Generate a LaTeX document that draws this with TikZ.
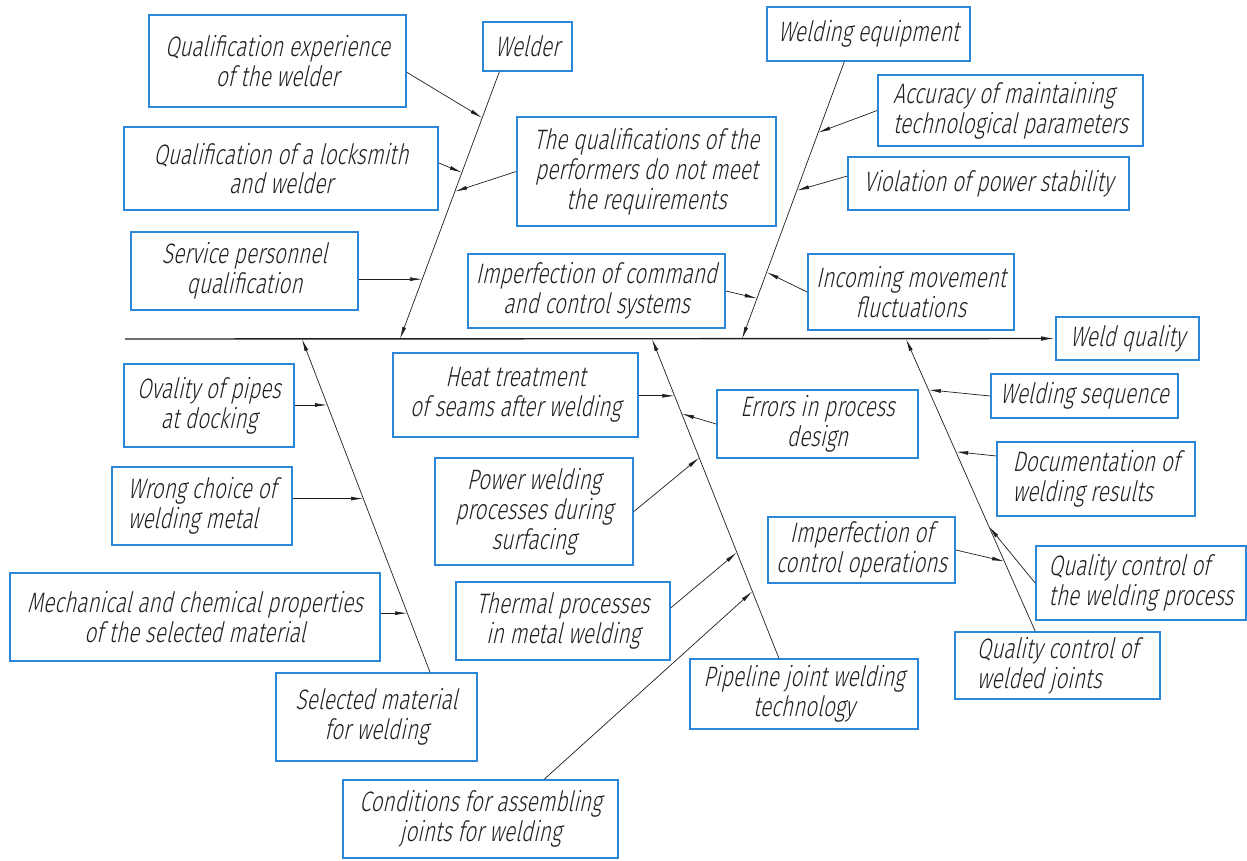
\documentclass[tikz,border=0pt]{standalone}
\usepackage{fontspec}
\setmainfont{Fira Sans}[UprightFont=* Light, FakeStretch=0.74, FakeSlant=0.22]
\usetikzlibrary{arrows.meta}
\usetikzlibrary{calc}
\definecolor{boxblue}{HTML}{2B87D8}
\definecolor{ink}{HTML}{1E1E1E}
\tikzset{cause/.style = {draw=boxblue, line width=1pt, inner sep=0pt, text=ink,
                         align=center, font=\fontsize{16}{17}\selectfont},
         sz/.style 2 args = {minimum width=#1*0.02cm, minimum height=#2*0.02cm},
         bone/.style = {draw=ink, line width=0.4pt, -{Latex[length=7pt, width=2.2pt]}},
         spine/.style = {draw=ink, line width=0.8pt, -{Latex[length=8pt, width=2.6pt]}}}

\begin{document}
\begin{tikzpicture}[x=0.02cm, y=-0.02cm]
    \useasboundingbox (0,0) rectangle (1247,860);

    % causes above the spine
    \node[cause, sz={257}{92}] (qexp) at (277.5,61) {Qualification experience\\of the welder};
    \node[cause, sz={89}{49}] (welder) at (527.5,46.5) {Welder};
    \node[cause, sz={314}{83}] (qlock) at (281,168.5) {Qualification of a locksmith\\and welder};
    \node[cause, sz={259}{109}] (qperf) at (646.5,171.5) {The qualifications of the\\performers do not meet\\the requirements};
    \node[cause, sz={227}{78}] (serv) at (244.5,271) {Service personnel\\qualification};
    \node[cause, sz={257}{74}] (cmdsys) at (596.5,291) {Imperfection of command\\and control systems};
    \node[cause, sz={203}{54}] (equip) at (868.5,34) {Welding equipment};
    \node[cause, sz={265}{71}, align=left] (accur) at (1010.5,110.5) {Accuracy of maintaining\\technological parameters};
    \node[cause, sz={281}{53}] (viol) at (988.5,183.5) {Violation of power stability};
    \node[cause, sz={206}{76}] (incom) at (911,292) {Incoming movement\\fluctuations};

    % effect
    \node[cause, sz={143}{43}] (quality) at (1127.5,338.5) {Weld quality};

    % causes below the spine
    \node[cause, sz={187}{44}] (seq) at (1084.5,396) {Welding sequence};
    \node[cause, sz={198}{74}, align=left] (docum) at (1096,479) {Documentation of\\welding results};
    \node[cause, sz={210}{74}, align=left] (qcproc) at (1141,583) {Quality control of\\the welding process};
    \node[cause, sz={205}{67}, align=left] (qcjoint) at (1057.5,665.5) {Quality control of\\welded joints};
    \node[cause, sz={187}{66}] (ctrlops) at (861.5,550) {Imperfection of\\control operations};
    \node[cause, sz={201}{68}] (errors) at (817.5,424) {Errors in process\\design};
    \node[cause, sz={245}{84}] (heat) at (515.5,395) {Heat treatment\\of seams after welding};
    \node[cause, sz={198}{107}] (surf) at (534,511.5) {Power welding\\processes during\\surfacing};
    \node[cause, sz={214}{78}] (thermal) at (563,621) {Thermal processes\\in metal welding};
    \node[cause, sz={228}{70}] (pipe) at (804,694) {Pipeline joint welding\\technology};
    \node[cause, sz={275}{78}] (assem) at (480.5,819) {Conditions for assembling\\joints for welding};
    \node[cause, sz={201}{88}] (selmat) at (376.5,717) {Selected material\\for welding};
    \node[cause, sz={370}{88}] (mech) at (195,617) {Mechanical and chemical properties\\of the selected material};
    \node[cause, sz={180}{78}, align=left] (wrong) at (202,506) {Wrong choice of\\welding metal};
    \node[cause, sz={170}{83}] (ovality) at (209,405.5) {Ovality of pipes\\at docking};

    % spine and where the bones meet it
    \coordinate (tail) at (125,339);
    \coordinate (jw) at (400,339);
    \coordinate (je) at (742,339);
    \coordinate (jm) at (302,339);
    \coordinate (jp) at (652,339);
    \coordinate (jq) at (906,339);
    \draw[spine] (tail) -- (quality.west);

    \draw[bone] (welder.-138) -- (jw);
    \draw[bone] (equip.-131) -- (je);
    \draw[bone] (selmat.40.5) -- (jm);
    \draw[bone] (pipe.125.5) -- (jp);
    \draw[bone] (qcjoint.123.9) -- (jq);

    \foreach \n/\t in {w1/0.172, w2/0.377, w3/0.448, w4/0.776}
      \coordinate (\n) at ($(welder.-138)!\t!(jw)$);
    \foreach \n/\t in {e1/0.255, e2/0.464, e3/0.853, e4/0.759}
      \coordinate (\n) at ($(equip.-131)!\t!(je)$);
    \foreach \n/\t in {m1/0.802, m2/0.521, m3/0.177}
      \coordinate (\n) at ($(selmat.40.5)!\t!(jm)$);
    \foreach \n/\t in {p1/0.822, p2/0.766, p3/0.628, p4/0.331, p5/0.209}
      \coordinate (\n) at ($(pipe.125.5)!\t!(jp)$);
    \foreach \n/\t in {q1/0.826, q2/0.614, q3/0.358, q4/0.239}
      \coordinate (\n) at ($(qcjoint.123.9)!\t!(jq)$);

    \foreach \a/\b in {qexp.-5/w1, qlock.2/w2, qperf.west/w3, w4 -| serv.east/w4,
                       accur.west/e1, viol.177/e2, cmdsys.east/e3, incom.west/e4,
                       m1 -| ovality.east/m1, m2 -| wrong.east/m2, m3 -| mech.east/m3,
                       p1 -| heat.east/p1, errors.west/p2, surf.east/p3, thermal.7/p4, assem.32/p5,
                       seq.west/q1, docum.167.5/q2, qcproc.west/q3, ctrlops.east/q4}
      \draw[bone] (\a) -- (\b);
\end{tikzpicture}
\end{document}
